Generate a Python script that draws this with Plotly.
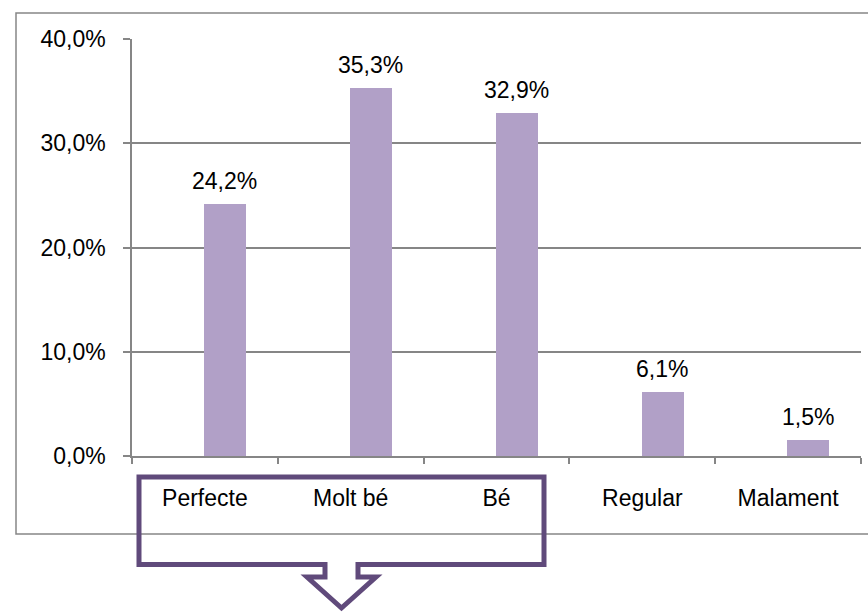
import plotly.graph_objects as go

categories = ["Perfecte", "Molt bé", "Bé", "Regular", "Malament"]
values = [0.242, 0.353, 0.329, 0.061, 0.015]
value_labels = ["24,2%", "35,3%", "32,9%", "6,1%", "1,5%"]
y_ticks = [0.0, 0.1, 0.2, 0.3, 0.4]

W, H = 868, 613
L, R, T, B = 132, 861, 39, 456  # plot area in px


def px(x):
    return (x - L) / (R - L)


def py(y):
    return (B - y) / (B - T)


FONT = "Liberation Sans, Arial, sans-serif"
GRAY = "#868686"

fig = go.Figure()
fig.add_trace(go.Bar(
    x=categories, y=values,
    marker=dict(color="#B1A0C7", line=dict(width=0)),
    width=0.288, offset=-0.005,
    hoverinfo="skip",
))

for c, v, t in zip(categories, values, value_labels):
    fig.add_annotation(x=c, y=v, text=t, showarrow=False, xref="x", yref="y",
                       xshift=20, yanchor="bottom", yshift=8,
                       font=dict(family=FONT, size=23, color="black"))

# outer chart border
fig.add_shape(type="rect", xref="paper", yref="paper",
              x0=px(16), x1=px(872), y0=py(534), y1=py(13),
              line=dict(color=GRAY, width=1.5), fillcolor="rgba(0,0,0,0)", layer="below")

# callout with down arrow
pts = [(139, 477), (544, 477), (544, 564.5), (358, 564.5), (358, 577), (376, 577),
       (341.5, 608), (307, 577), (325, 577), (325, 564.5), (139, 564.5)]
path = "M " + " L ".join(f"{px(x):.5f},{py(y):.5f}" for x, y in pts) + " Z"
fig.add_shape(type="path", xref="paper", yref="paper", path=path,
              line=dict(color="#604A7B", width=5), fillcolor="rgba(0,0,0,0)", layer="above")

fig.update_layout(
    width=W, height=H,
    margin=dict(l=L, r=W - R, t=T, b=H - B, pad=0),
    paper_bgcolor="white", plot_bgcolor="white",
    separators=",.",
    showlegend=False,
    font=dict(family=FONT, size=23, color="black"),
    bargap=0,
)
fig.update_xaxes(
    type="category", tickson="boundaries", ticks="outside", ticklen=6,
    tickcolor=GRAY, tickwidth=1.5, showline=True, linecolor=GRAY, linewidth=1.5,
    showgrid=False, ticklabelstandoff=21,
    tickfont=dict(family=FONT, size=23, color="black"),
)
fig.update_yaxes(
    range=[0, 0.4], tickvals=y_ticks, tickformat=".1%",
    ticks="outside", ticklen=7, tickcolor=GRAY, tickwidth=1.5,
    showline=True, linecolor=GRAY, linewidth=1.5,
    showgrid=True, gridcolor=GRAY, gridwidth=1.5, zeroline=False,
    ticklabelstandoff=13,
    tickfont=dict(family=FONT, size=23, color="black"),
)

fig.write_html("out.html", config={"displayModeBar": False},
               post_script="document.body.style.margin='0';")
